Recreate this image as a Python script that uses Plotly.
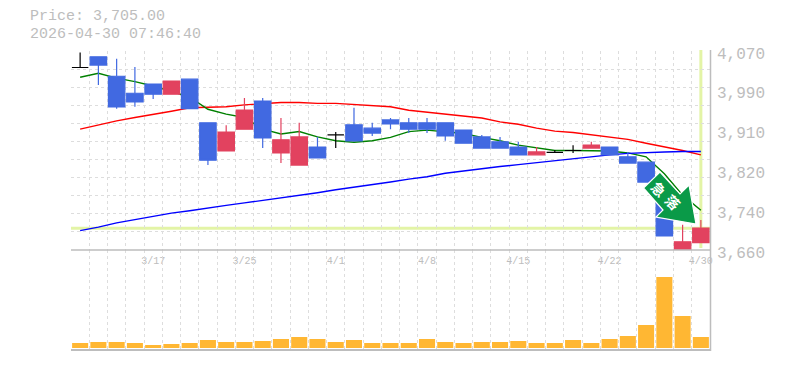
import plotly.graph_objects as go

dates = ["3/11","3/12","3/13","3/16","3/17","3/18","3/19","3/23","3/24","3/25",
         "3/26","3/27","3/30","3/31","4/1","4/2","4/3","4/6","4/7","4/8",
         "4/9","4/10","4/13","4/14","4/15","4/16","4/17","4/20","4/21","4/22",
         "4/23","4/24","4/27","4/28","4/30"]
label_dates = ["3/17","3/25","4/1","4/8","4/15","4/22","4/30"]

opens = [4036,4058,4018,3983,4002,3981,4012,3922,3864,3909,3967,3860,3835,3872,3897,3918,3911,3928,3922,3922,
         3922,3907,3893,3883,3872,3856,3861,3865,3870,3872,3852,3841,3763,3658,3675]
highs = [4067,4058,4054,4037,4002,4008,4012,3922,3917,3973,3973,3932,3922,3893,3903,3953,3922,3932,3932,3932,
         3922,3907,3897,3893,3883,3872,3866,3876,3883,3872,3862,3841,3763,3712,3722]
lows = [4036,4000,3951,3955,3971,3981,3951,3835,3864,3909,3870,3839,3835,3850,3870,3883,3895,3909,3901,3901,
        3885,3880,3870,3870,3856,3856,3861,3860,3870,3856,3839,3800,3689,3658,3675]
closes = [4036,4041,3955,3965,3981,4008,3951,3845,3903,3948,3891,3887,3893,3850,3897,3885,3901,3920,3909,3909,
          3895,3880,3870,3870,3856,3862,3861,3865,3876,3856,3839,3800,3689,3677,3705]
ma_short = [4016,4024,4014,4007,3998,3986,3975,3950,3940,3933,3909,3899,3904,3893,3885,3882,3885,3892,3904,3907,
            3904,3900,3892,3885,3876,3870,3865,3865,3865,3864,3860,3852,3817,3773,3742]
ma_mid = [3909,3918,3926,3933,3939,3946,3953,3954,3955,3959,3962,3964,3964,3962,3962,3960,3958,3955,3948,3944,
          3941,3937,3932,3924,3919,3911,3905,3902,3897,3893,3888,3880,3873,3865,3856]
ma_long = [3700,3707,3716,3723,3730,3736,3741,3747,3752,3757,3762,3768,3773,3778,3784,3789,3794,3800,3806,3811,
           3818,3823,3828,3832,3836,3840,3844,3849,3853,3856,3859,3861,3862,3863,3863]
volumes = [50000,60000,60000,50000,30000,40000,50000,80000,60000,60000,70000,90000,110000,90000,60000,80000,50000,50000,50000,90000,
           60000,50000,60000,60000,70000,50000,50000,80000,50000,90000,120000,230000,710000,320000,110000]
price_labels = ["4,070","3,990","3,910","3,820","3,740","3,660"]
price_ticks = [4070,3988,3906,3824,3742,3660]
last_price = 3705
title_lines = ["Price: 3,705.00", "2026-04-30 07:46:40"]
badge_text = ["急", "落"]

# The page body adds an 8px margin, so the figure is 8px smaller and all page positions are offset by 8.
OFF = 8
W, H = 785 - OFF, 370 - OFF
L, R, T, B = 71, 710, 51, 350
PRICE_BOTTOM = 250
FONT = "Liberation Mono"
GREY = "#bdbdbd"
GRID = "#dddddd"
BLUE = "#4169e1"
RED = "#e2425f"
YEL = "#e3f4a6"
DASH = "3px,3px"


def px(x):
    return (x - OFF) / W


def py(y):
    return 1 - (y - OFF) / H


price_range = [3660, 4070]
n = len(dates)
grid_step = (price_range[1] - price_range[0]) / 11
grid_vals = [price_range[0] + i * grid_step for i in range(1, 12)]

fig = go.Figure()

for vals, col in ((ma_mid, "#ff0000"), (ma_short, "#008000"), (ma_long, "#0000ff")):
    fig.add_trace(go.Scatter(x=dates, y=vals, mode="lines", xaxis="x", yaxis="y",
                             line=dict(color=col, width=1.4), showlegend=False, hoverinfo="skip"))


def subset(cond):
    idx = [i for i in range(n) if cond(opens[i], closes[i])]
    return dict(x=[dates[i] for i in idx], open=[opens[i] for i in idx], high=[highs[i] for i in idx],
                low=[lows[i] for i in idx], close=[closes[i] for i in idx])


for cond, col, lw in ((lambda o, c: c > o, RED, 1.2), (lambda o, c: c < o, BLUE, 1.2), (lambda o, c: c == o, "#000000", 1.2)):
    line = dict(color=col, width=lw)
    side = dict(line=line, fillcolor=col)
    fig.add_trace(go.Candlestick(xaxis="x2", yaxis="y2", increasing=side, decreasing=side,
                                 showlegend=False, whiskerwidth=0, **subset(cond)))

fig.add_trace(go.Bar(x=dates, y=volumes, xaxis="x3", yaxis="y3", marker=dict(color="#ffb733", line_width=0),
                     width=0.88, showlegend=False, hoverinfo="skip"))

dom_x = [px(L), px(R)]
dom_y_price = [py(PRICE_BOTTOM), py(T)]
dom_y_vol = [py(B), py(PRICE_BOTTOM)]
xr = [-0.5, n - 0.5]
tick_text = [d if d in label_dates else "" for d in dates]

common_x = dict(type="category", categoryorder="array", categoryarray=dates, range=xr, domain=dom_x)
grid_y = dict(showgrid=True, griddash=DASH, gridcolor=GRID, gridwidth=1)

fig.update_layout(
    width=W, height=H, margin=dict(l=0, r=0, t=0, b=0, autoexpand=False), autosize=False,
    paper_bgcolor="white", plot_bgcolor="white", showlegend=False, boxgap=0.1, boxgroupgap=0, bargap=0.12, boxmode="overlay",
    font=dict(family=FONT, color=GREY),
    xaxis=dict(**common_x, anchor="y", tickmode="array", tickvals=dates, ticktext=tick_text, tickson="boundaries",
               ticks="", showticklabels=True, tickangle=0, ticklabelstandoff=3, tickfont=dict(size=10, color=GREY, family=FONT),
               rangeslider=dict(visible=False), **grid_y, zeroline=False),
    yaxis=dict(domain=dom_y_price, range=price_range, anchor="x", showgrid=False, zeroline=False, showticklabels=False,
               minor=dict(tickmode="array", tickvals=grid_vals, showgrid=True, griddash=DASH, gridcolor=GRID, gridwidth=1, ticks="")),
    xaxis2=dict(**common_x, overlaying="x", anchor="y2", showticklabels=False, showgrid=False, ticks="",
                rangeslider=dict(visible=False), zeroline=False),
    yaxis2=dict(domain=dom_y_price, range=price_range, overlaying="y", anchor="x2", side="right", showgrid=False, zeroline=False,
                tickmode="array", tickvals=price_ticks, ticktext=price_labels, ticks="", ticklabelposition="outside",
                tickfont=dict(size=16, color=GREY, family=FONT), ticklabelshift=2, ticklabelstandoff=6),
    xaxis3=dict(**common_x, anchor="y3", tickmode="array", tickvals=dates, ticktext=[""] * n, tickson="boundaries", ticks="",
                **grid_y, zeroline=False),
    yaxis3=dict(domain=dom_y_vol, range=[-20000, 980000], anchor="x3", showgrid=False, zeroline=False, showticklabels=False, ticks=""),
)

shapes = [
    dict(type="line", xref="paper", yref="y", x0=px(L), x1=px(R), y0=last_price, y1=last_price, layer="below",
         line=dict(color=YEL, width=3)),
    dict(type="line", xref="x", yref="paper", x0=dates[-1], x1=dates[-1], y0=py(248), y1=py(50), layer="below",
         line=dict(color=YEL, width=3)),
    dict(type="line", xref="paper", yref="paper", x0=px(L), x1=px(R), y0=py(PRICE_BOTTOM), y1=py(PRICE_BOTTOM),
         line=dict(color=GREY, width=1.5)),
    dict(type="line", xref="paper", yref="paper", x0=px(L), x1=px(R), y0=py(B), y1=py(B), line=dict(color=GREY, width=2)),
    dict(type="line", xref="paper", yref="paper", x0=px(R + 0.5), x1=px(R + 0.5), y0=py(351), y1=py(50),
         line=dict(color=GREY, width=1.5)),
]


def badge_path(pts):
    return "M " + " L ".join(f"{px(x):.5f},{py(y):.5f}" for x, y in pts) + " Z"


badge = [(660, 172), (680, 194), (689, 185), (696, 224), (656, 217), (663, 210), (643.5, 188)]
shapes.append(dict(type="path", xref="paper", yref="paper", path=badge_path(badge), fillcolor="#0a9a48",
                   line=dict(color="white", width=1.2)))
fig.update_layout(shapes=shapes)

annotations = [
    dict(text=title_lines[0], x=px(28), y=py(17), xref="paper", yref="paper", xanchor="left", yanchor="middle",
         showarrow=False, font=dict(size=15, color=GREY, family=FONT)),
    dict(text=title_lines[1], x=px(28), y=py(34), xref="paper", yref="paper", xanchor="left", yanchor="middle",
         showarrow=False, font=dict(size=15, color=GREY, family=FONT)),
    dict(text="<b>" + badge_text[0] + "</b>", x=px(659), y=py(189), xref="paper", yref="paper", xanchor="center", yanchor="middle",
         textangle=45, showarrow=False, font=dict(size=14, color="white", family="Noto Sans CJK JP")),
    dict(text="<b>" + badge_text[1] + "</b>", x=px(673), y=py(202), xref="paper", yref="paper", xanchor="center", yanchor="middle",
         textangle=45, showarrow=False, font=dict(size=14, color="white", family="Noto Sans CJK JP")),
]
fig.update_layout(annotations=annotations)

fig.write_html("out.html", config=dict(displayModeBar=False))
